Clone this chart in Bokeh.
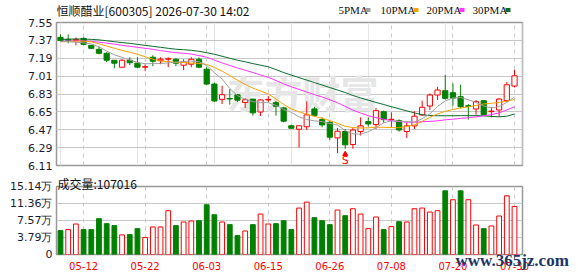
from bokeh.plotting import figure
from bokeh.layouts import column
from bokeh.models import Range1d, FixedTicker, Label, ColumnDataSource, Grid, NumeralTickFormatter, Title
from bokeh.embed import file_html
from bokeh.resources import INLINE
from bokeh.core.properties import value

# ---------------- data ----------------
dates = ["05-07", "05-08", "05-11", "05-12", "05-13", "05-14", "05-15", "05-18", "05-19", "05-20",
         "05-21", "05-22", "05-25", "05-26", "05-27", "05-28", "05-29", "06-01", "06-02", "06-03",
         "06-04", "06-05", "06-08", "06-09", "06-10", "06-11", "06-12", "06-15", "06-16", "06-17",
         "06-18", "06-22", "06-23", "06-24", "06-25", "06-26", "06-29", "06-30", "07-01", "07-02",
         "07-03", "07-06", "07-07", "07-08", "07-09", "07-10", "07-13", "07-14", "07-15", "07-16",
         "07-17", "07-20", "07-21", "07-22", "07-23", "07-24", "07-27", "07-28", "07-29", "07-30"]

opens = [7.400, 7.380, 7.370, 7.390, 7.320, 7.280, 7.240, 7.170, 7.100, 7.170,
         7.140, 7.100, 7.200, 7.165, 7.180, 7.180, 7.120, 7.130, 7.180, 7.080,
         6.930, 6.776, 6.785, 6.823, 6.745, 6.779, 6.649, 6.770, 6.743, 6.690,
         6.510, 6.475, 6.500, 6.680, 6.572, 6.545, 6.388, 6.452, 6.321, 6.452,
         6.552, 6.522, 6.652, 6.570, 6.562, 6.452, 6.509, 6.619, 6.709, 6.820,
         6.863, 6.843, 6.803, 6.712, 6.679, 6.763, 6.652, 6.669, 6.763, 6.910]
highs = [7.430, 7.430, 7.400, 7.400, 7.320, 7.310, 7.250, 7.170, 7.180, 7.200,
         7.200, 7.130, 7.220, 7.200, 7.200, 7.190, 7.180, 7.200, 7.200, 7.100,
         6.945, 6.913, 6.880, 6.830, 6.789, 6.780, 6.776, 6.809, 6.760, 6.700,
         6.520, 6.510, 6.756, 6.700, 6.595, 6.560, 6.488, 6.478, 6.488, 6.595,
         6.595, 6.689, 6.662, 6.646, 6.575, 6.545, 6.655, 6.763, 6.836, 6.903,
         7.023, 6.936, 6.923, 6.729, 6.769, 6.763, 6.696, 6.789, 6.950, 7.074]
lows = [7.360, 7.340, 7.320, 7.320, 7.285, 7.230, 7.150, 7.090, 7.100, 7.120,
        7.090, 7.060, 7.110, 7.130, 7.100, 7.110, 7.070, 7.100, 7.090, 6.920,
        6.750, 6.729, 6.723, 6.750, 6.689, 6.612, 6.609, 6.746, 6.612, 6.545,
        6.478, 6.290, 6.468, 6.600, 6.495, 6.368, 6.234, 6.278, 6.278, 6.412,
        6.502, 6.478, 6.539, 6.495, 6.452, 6.388, 6.478, 6.612, 6.669, 6.769,
        6.773, 6.712, 6.686, 6.572, 6.622, 6.616, 6.595, 6.602, 6.749, 6.896]
closes = [7.368, 7.372, 7.380, 7.330, 7.290, 7.240, 7.170, 7.140, 7.170, 7.145,
          7.100, 7.105, 7.160, 7.180, 7.185, 7.140, 7.155, 7.180, 7.100, 6.930,
          6.760, 6.823, 6.780, 6.768, 6.772, 6.640, 6.770, 6.776, 6.706, 6.556,
          6.485, 6.510, 6.620, 6.615, 6.519, 6.395, 6.455, 6.318, 6.468, 6.509,
          6.529, 6.662, 6.572, 6.575, 6.468, 6.509, 6.606, 6.696, 6.820, 6.870,
          6.786, 6.789, 6.702, 6.705, 6.753, 6.622, 6.658, 6.779, 6.923, 7.013]
volumes = [53200, 55400, 67900, 55400, 55400, 79800, 68700, 64300, 43600, 44300,
           57600, 37700, 61300, 61300, 97500, 64300, 72400, 74600, 75300, 110800,
           88600, 72400, 66500, 42100, 52400, 66500, 90100, 67900, 68700, 75300,
           55400, 103400, 116700, 82000, 75300, 66500, 99000, 86400, 101900, 90100,
           57600, 83500, 55400, 62000, 73100, 72400, 101900, 103400, 94500, 97500,
           141800, 121900, 141800, 121900, 65700, 57600, 63500, 85700, 130700, 107016]

ma5 = [7.360, 7.357, 7.352, 7.345, 7.335, 7.305, 7.262, 7.225, 7.198, 7.172,
       7.148, 7.135, 7.136, 7.137, 7.143, 7.150, 7.157, 7.162, 7.155, 7.118,
       7.045, 6.980, 6.885, 6.813, 6.778, 6.752, 6.746, 6.742, 6.716, 6.675,
       6.645, 6.600, 6.572, 6.560, 6.552, 6.533, 6.518, 6.462, 6.430, 6.425,
       6.450, 6.490, 6.540, 6.560, 6.556, 6.552, 6.548, 6.580, 6.630, 6.705,
       6.760, 6.790, 6.795, 6.772, 6.745, 6.710, 6.690, 6.703, 6.745, 6.800]
ma10 = [7.355, 7.358, 7.362, 7.362, 7.355, 7.335, 7.312, 7.290, 7.270, 7.250,
        7.230, 7.205, 7.180, 7.163, 7.155, 7.150, 7.146, 7.142, 7.138, 7.128,
        7.098, 7.060, 7.015, 6.970, 6.925, 6.890, 6.860, 6.830, 6.780, 6.725,
        6.680, 6.650, 6.625, 6.605, 6.585, 6.562, 6.535, 6.505, 6.492, 6.488,
        6.490, 6.495, 6.495, 6.492, 6.490, 6.503, 6.520, 6.555, 6.595, 6.630,
        6.655, 6.675, 6.690, 6.700, 6.715, 6.730, 6.736, 6.745, 6.758, 6.774]
ma20 = [7.360, 7.362, 7.364, 7.364, 7.360, 7.352, 7.342, 7.332, 7.320, 7.310,
        7.300, 7.290, 7.280, 7.267, 7.256, 7.246, 7.240, 7.232, 7.217, 7.200,
        7.172, 7.143, 7.117, 7.092, 7.070, 7.046, 7.022, 6.998, 6.966, 6.932,
        6.902, 6.876, 6.850, 6.824, 6.800, 6.772, 6.742, 6.705, 6.668, 6.638,
        6.612, 6.592, 6.576, 6.562, 6.552, 6.546, 6.546, 6.550, 6.555, 6.560,
        6.570, 6.576, 6.585, 6.591, 6.600, 6.610, 6.622, 6.640, 6.670, 6.700]
ma30 = [7.380, 7.382, 7.384, 7.384, 7.380, 7.375, 7.366, 7.356, 7.348, 7.340,
        7.330, 7.320, 7.310, 7.300, 7.290, 7.281, 7.276, 7.270, 7.260, 7.246,
        7.230, 7.210, 7.190, 7.170, 7.154, 7.136, 7.120, 7.104, 7.076, 7.046,
        7.020, 6.995, 6.970, 6.945, 6.920, 6.895, 6.870, 6.845, 6.815, 6.790,
        6.768, 6.745, 6.724, 6.702, 6.681, 6.660, 6.640, 6.621, 6.613, 6.611,
        6.611, 6.611, 6.612, 6.612, 6.612, 6.610, 6.604, 6.600, 6.606, 6.628]

tick_dates = ["05-12", "05-22", "06-03", "06-15", "06-26", "07-08", "07-20", "07-30"]
price_ticks = [6.11, 6.29, 6.47, 6.65, 6.83, 7.01, 7.19, 7.37, 7.55]
vol_ticks = [0, 37850, 75700, 113550, 151400]
vol_tick_labels = ["0", "3.79万", "7.57万", "11.36万", "15.14万"]
ma_names = ["5PMA", "10PMA", "20PMA", "30PMA"]
signal_dates = ["06-30"]
signal_texts = ["S"]
title_text = "恒顺醋业[600305] 2026-07-30 14:02"
vol_title = "成交量:107016"

# ---------------- styling ----------------
RED = "#ff0000"
GREEN = "#008000"
MA_COLORS = ["#a0a0a0", "#f5a300", "#ff33ff", "#0b6b2e"]
GRID = "#c8c8c8"
FRAME = "#999999"
CJK = "Noto Sans CJK SC"
W = 578
FL, FR = 56, 522   # plot frame left/right edge in page pixels
H0 = 18      # header strip
H1 = 154     # price panel
H2 = 104     # volume panel

n = len(dates)
idx = list(range(n))
tick_idx = [dates.index(d) for d in tick_dates]

up = [c >= o for o, c in zip(opens, closes)]
vol_up = [(closes[i] > closes[i - 1]) if i > 0 else up[0] for i in range(n)]

src = ColumnDataSource(dict(
    x=idx, o=opens, h=highs, l=lows, c=closes,
    top=[max(o, c) for o, c in zip(opens, closes)],
    bot=[min(o, c) for o, c in zip(opens, closes)],
    line=[RED if u else GREEN for u in up],
    fill=["white" if u else GREEN for u in up],
    vol=volumes,
    vline=[RED if u else GREEN for u in vol_up],
    vfill=["white" if u else GREEN for u in vol_up],
    ma5=ma5, ma10=ma10, ma20=ma20, ma30=ma30,
))

xr = Range1d(-0.52, 60.04)

# ---------------- header strip (title + MA legend), coordinates = page pixels ----------------
hd = figure(width=W, height=H0, x_range=Range1d(FL, FR), y_range=Range1d(H0, 0),
            output_backend="svg", toolbar_location=None, x_axis_location=None,
            y_axis_location=None, min_border_left=FL, min_border_right=W - FR,
            min_border_top=0, min_border_bottom=0)
hd.outline_line_color = None
hd.background_fill_color = "white"
hd.border_fill_color = "white"
hd.grid.visible = False
hd.text(x=[FL], y=[9.5], text=[title_text], text_font=value(CJK), text_font_size="12px",
        text_color="#111111", text_baseline="middle", text_align="left", text_line_height=1.0)
leg_x = [338, 380, 426, 472]
sq_x = [367.5, 415.5, 461.5, 507.5]
hd.text(x=leg_x, y=[9.5] * 4, text=ma_names, text_font=value("Liberation Serif"),
        text_font_size="11px", text_color="#111111", text_baseline="middle", text_align="left")
hd.rect(x=sq_x, y=[9.5] * 4, width=5, height=4, fill_color=MA_COLORS, line_color=None)

# ---------------- price panel ----------------
p1 = figure(width=W, height=H1, x_range=xr, y_range=Range1d(price_ticks[0], price_ticks[-1]),
            output_backend="svg", toolbar_location=None, x_axis_location=None,
            min_border_left=FL, min_border_right=W - FR, min_border_top=22 - H0,
            min_border_bottom=H0 + H1 - 165)
p1.background_fill_color = "white"
p1.border_fill_color = "white"
p1.outline_line_color = FRAME
p1.outline_line_width = 1.5
p1.add_layout(Grid(dimension=0, ticker=FixedTicker(ticks=tick_idx),
                   grid_line_color=GRID, grid_line_dash="4 4"))
p1.ygrid.ticker = FixedTicker(ticks=price_ticks)
p1.ygrid.grid_line_color = GRID
p1.yaxis.ticker = FixedTicker(ticks=price_ticks)
p1.yaxis.formatter = NumeralTickFormatter(format="0.00")
p1.yaxis.axis_line_color = None
p1.yaxis.major_tick_line_color = None
p1.yaxis.minor_tick_line_color = None
p1.yaxis.major_tick_out = 0
p1.yaxis.major_tick_in = 0
p1.yaxis.major_label_standoff = 4
p1.yaxis.major_label_text_font = "DejaVu Sans"
p1.yaxis.major_label_text_font_size = "11px"
p1.yaxis.major_label_text_color = "#1b1b30"

# watermark (screen units are relative to the plot frame)
p1.add_layout(Label(x=226 - FL, y=165 - 91, x_units="screen", y_units="screen", text="东方财富",
                    text_font=CJK, text_font_size="38px", text_font_style="bold",
                    text_color="#e6e6e6", text_baseline="middle", level="underlay"))

p1.segment(x0="x", y0="h", x1="x", y1="l", line_color="line", line_width=1, source=src)
p1.vbar(x="x", width=0.68, top="top", bottom="bot", fill_color="fill", line_color="line",
        line_width=1, source=src)

for name, col in zip(["ma30", "ma20", "ma10", "ma5"], MA_COLORS[::-1]):
    p1.line(x="x", y=name, line_color=col, line_width=1, source=src)

sig_x = [dates.index(d) for d in signal_dates]
p1.scatter(x=sig_x, y=[lows[i] - 0.053 for i in sig_x], marker="triangle", size=5,
           fill_color=RED, line_color=RED)
p1.text(x=sig_x, y=[lows[i] - 0.118 for i in sig_x], text=signal_texts, text_color=RED,
        text_font=value("DejaVu Sans"), text_font_size="11px", text_align="center",
        text_baseline="middle")

# ---------------- volume panel ----------------
p2 = figure(width=W, height=H2, x_range=xr, y_range=Range1d(vol_ticks[0], vol_ticks[-1]),
            output_backend="svg", toolbar_location=None,
            min_border_left=FL, min_border_right=W - FR, min_border_top=186 - H0 - H1,
            min_border_bottom=22)
p2.background_fill_color = "white"
p2.border_fill_color = "white"
p2.outline_line_color = FRAME
p2.outline_line_width = 1.5
p2.title = Title(text=vol_title, align="left", offset=1, standoff=-14, vertical_align="top",
                 text_font=CJK, text_font_size="12px", text_font_style="normal",
                 text_color="#111111")
p2.xgrid.ticker = FixedTicker(ticks=tick_idx)
p2.xgrid.grid_line_color = GRID
p2.xgrid.grid_line_dash = "4 4"
p2.ygrid.ticker = FixedTicker(ticks=vol_ticks)
p2.ygrid.grid_line_color = GRID

p2.xaxis.ticker = FixedTicker(ticks=tick_idx)
p2.xaxis.major_label_overrides = {i: d for i, d in zip(tick_idx, tick_dates)}
p2.xaxis.axis_line_color = None
p2.xaxis.major_tick_line_color = None
p2.xaxis.minor_tick_line_color = None
p2.xaxis.major_tick_out = 0
p2.xaxis.major_tick_in = 0
p2.xaxis.major_label_standoff = 7
p2.xaxis.major_label_text_font = "DejaVu Sans"
p2.xaxis.major_label_text_font_size = "10px"
p2.xaxis.major_label_text_color = RED

p2.yaxis.ticker = FixedTicker(ticks=vol_ticks)
p2.yaxis.major_label_overrides = {t: s for t, s in zip(vol_ticks, vol_tick_labels)}
p2.yaxis.axis_line_color = None
p2.yaxis.major_tick_line_color = None
p2.yaxis.minor_tick_line_color = None
p2.yaxis.major_tick_out = 0
p2.yaxis.major_tick_in = 0
p2.yaxis.major_label_standoff = 4
p2.yaxis.major_label_text_font = "DejaVu Sans"
p2.yaxis.major_label_text_font_size = "11px"
p2.yaxis.major_label_text_color = "#1b1b30"

p2.vbar(x="x", width=0.62, top="vol", bottom=0, fill_color="vfill", line_color="vline",
        line_width=1, source=src)

# site watermark in the bottom panel, pulled up over the date labels
p2.add_layout(Title(text="www.365jz.com", align="left", offset=455 - FL, standoff=-44,
                    vertical_align="top",
                    text_font="Liberation Serif", text_font_size="17px", text_font_style="bold",
                    text_color="#1c3567"), "below")

layout = column(hd, p1, p2, spacing=0)
open("out.html", "w").write(file_html(layout, INLINE))
